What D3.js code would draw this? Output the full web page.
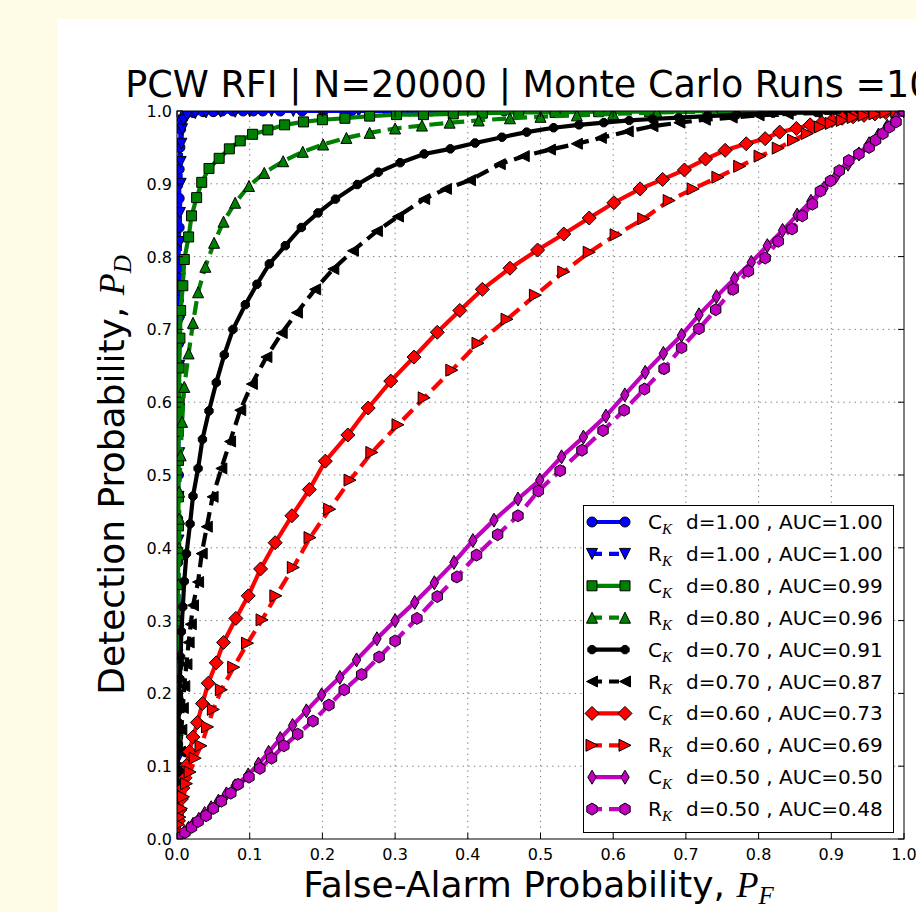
<!DOCTYPE html>
<html>
<head>
<meta charset="utf-8">
<script src="https://cdn.jsdelivr.net/npm/d3@7/dist/d3.min.js"></script>
<style>
  body { margin: 0; background: #fefce6; }
  svg { display: block; }
  text { font-family: "DejaVu Sans", sans-serif; fill: #000; }
</style>
</head>
<body>
<div id="chart"></div>
<script>
// ROC points [P_F, P_D]
const cK100 = [[0,0],[0.000,0.03],[0.000,0.08],[0.001,0.14],[0.001,0.20],[0.001,0.26],[0.001,0.32],[0.001,0.38],[0.001,0.44],[0.002,0.50],[0.002,0.56],[0.002,0.62],[0.002,0.68],[0.002,0.74],[0.002,0.79],[0.003,0.84],[0.003,0.88],[0.003,0.92],[0.004,0.95],[0.005,0.975],[0.007,0.988],[0.011,0.995],[0.022,0.998],[0.036,0.999],[0.050,0.999],[0.062,1.0],[0.077,1.0],[0.091,1.0],[0.105,1.0],[0.118,1.0],[0.142,1.0],[0.172,1.0],[0.201,1.0],[0.240,1.0],[0.290,1.0],[0.350,1.0],[0.450,1.0],[0.600,1.0],[1,1]];
const rK100 = [[0,0],[0.000,0.05],[0.001,0.11],[0.001,0.17],[0.001,0.23],[0.002,0.29],[0.002,0.35],[0.002,0.41],[0.002,0.47],[0.003,0.53],[0.003,0.59],[0.003,0.65],[0.003,0.71],[0.004,0.77],[0.004,0.82],[0.004,0.86],[0.005,0.90],[0.005,0.93],[0.006,0.955],[0.007,0.975],[0.009,0.987],[0.014,0.994],[0.025,0.997],[0.040,0.998],[0.060,0.999],[0.080,0.999],[0.100,1.0],[0.130,1.0],[0.160,1.0],[0.200,1.0],[0.250,1.0],[0.320,1.0],[0.420,1.0],[0.600,1.0],[1,1]];
const cK080 = [[0,0],[0.000,0.04],[0.000,0.09],[0.000,0.14],[0.001,0.19],[0.001,0.24],[0.001,0.29],[0.001,0.35],[0.002,0.39],[0.002,0.43],[0.002,0.47],[0.002,0.52],[0.002,0.56],[0.003,0.60],[0.003,0.647],[0.004,0.688],[0.005,0.726],[0.008,0.760],[0.010,0.796],[0.016,0.827],[0.020,0.856],[0.027,0.881],[0.034,0.902],[0.044,0.921],[0.058,0.935],[0.072,0.948],[0.087,0.959],[0.104,0.968],[0.125,0.974],[0.148,0.981],[0.174,0.985],[0.200,0.988],[0.231,0.990],[0.265,0.993],[0.302,0.995],[0.339,0.995],[0.380,0.996],[0.420,0.997],[0.470,0.998],[0.520,0.998],[0.580,0.999],[0.650,0.999],[0.750,1.0],[1,1]];
const rK080 = [[0,0],[0.000,0.05],[0.001,0.10],[0.001,0.15],[0.001,0.20],[0.002,0.25],[0.002,0.30],[0.002,0.35],[0.003,0.40],[0.003,0.44],[0.003,0.477],[0.005,0.527],[0.007,0.573],[0.010,0.621],[0.016,0.667],[0.022,0.709],[0.029,0.751],[0.039,0.786],[0.051,0.819],[0.064,0.848],[0.080,0.874],[0.099,0.897],[0.120,0.915],[0.146,0.931],[0.173,0.944],[0.201,0.954],[0.233,0.963],[0.265,0.970],[0.300,0.976],[0.337,0.980],[0.375,0.984],[0.415,0.987],[0.458,0.990],[0.500,0.992],[0.550,0.994],[0.600,0.996],[0.660,0.998],[0.730,0.999],[0.820,1.0],[1,1]];
const cK070 = [[0,0],[0.000,0.03],[0.001,0.07],[0.001,0.10],[0.002,0.13],[0.002,0.16],[0.003,0.19],[0.004,0.22],[0.005,0.25],[0.006,0.285],[0.008,0.319],[0.010,0.354],[0.013,0.392],[0.018,0.433],[0.022,0.471],[0.029,0.509],[0.035,0.549],[0.044,0.588],[0.054,0.627],[0.065,0.665],[0.077,0.700],[0.094,0.734],[0.110,0.762],[0.127,0.790],[0.149,0.815],[0.171,0.840],[0.194,0.860],[0.218,0.879],[0.248,0.899],[0.277,0.916],[0.307,0.929],[0.340,0.941],[0.376,0.948],[0.410,0.956],[0.447,0.964],[0.481,0.971],[0.518,0.977],[0.553,0.981],[0.587,0.984],[0.622,0.987],[0.654,0.989],[0.690,0.991],[0.730,0.993],[0.770,0.995],[0.820,0.997],[0.880,0.998],[0.940,0.999],[1,1]];
const rK070 = [[0,0],[0.001,0.03],[0.002,0.06],[0.003,0.09],[0.004,0.12],[0.006,0.15],[0.008,0.18],[0.010,0.21],[0.013,0.24],[0.016,0.27],[0.019,0.295],[0.022,0.321],[0.029,0.353],[0.034,0.392],[0.041,0.429],[0.049,0.470],[0.061,0.509],[0.073,0.546],[0.087,0.589],[0.103,0.625],[0.123,0.662],[0.144,0.695],[0.165,0.723],[0.190,0.755],[0.215,0.783],[0.242,0.808],[0.275,0.835],[0.304,0.855],[0.340,0.879],[0.370,0.893],[0.403,0.905],[0.444,0.927],[0.477,0.938],[0.513,0.947],[0.550,0.955],[0.583,0.963],[0.620,0.972],[0.654,0.979],[0.691,0.984],[0.726,0.988],[0.763,0.991],[0.800,0.994],[0.840,0.996],[0.880,0.997],[0.920,0.998],[0.960,0.999],[1,1]];
const cK060 = [[0,0],[0.001,0.010],[0.002,0.025],[0.004,0.040],[0.006,0.055],[0.008,0.070],[0.011,0.084],[0.013,0.101],[0.017,0.120],[0.022,0.140],[0.028,0.160],[0.035,0.186],[0.043,0.214],[0.054,0.242],[0.064,0.270],[0.081,0.303],[0.098,0.334],[0.115,0.371],[0.135,0.407],[0.158,0.444],[0.182,0.480],[0.204,0.519],[0.235,0.555],[0.263,0.592],[0.294,0.629],[0.326,0.662],[0.358,0.696],[0.389,0.726],[0.420,0.755],[0.458,0.784],[0.496,0.809],[0.532,0.831],[0.567,0.853],[0.601,0.874],[0.637,0.893],[0.668,0.906],[0.698,0.919],[0.727,0.934],[0.754,0.946],[0.783,0.955],[0.809,0.962],[0.829,0.971],[0.852,0.976],[0.871,0.981],[0.887,0.984],[0.901,0.987],[0.915,0.990],[0.930,0.992],[0.945,0.994],[0.960,0.996],[0.975,0.998],[0.990,0.999],[1,1]];
const rK060 = [[0,0],[0.001,0.010],[0.002,0.020],[0.004,0.030],[0.006,0.042],[0.009,0.058],[0.013,0.076],[0.018,0.092],[0.025,0.111],[0.033,0.128],[0.042,0.154],[0.050,0.178],[0.061,0.205],[0.078,0.236],[0.097,0.269],[0.117,0.301],[0.136,0.334],[0.160,0.373],[0.183,0.414],[0.210,0.453],[0.238,0.493],[0.268,0.531],[0.304,0.569],[0.340,0.606],[0.378,0.644],[0.414,0.681],[0.454,0.714],[0.493,0.747],[0.532,0.779],[0.567,0.806],[0.604,0.830],[0.642,0.852],[0.677,0.877],[0.710,0.893],[0.744,0.909],[0.774,0.924],[0.802,0.938],[0.827,0.949],[0.848,0.960],[0.867,0.969],[0.885,0.978],[0.900,0.983],[0.915,0.987],[0.930,0.991],[0.945,0.994],[0.960,0.996],[0.975,0.998],[0.990,0.999],[1,1]];
const cK050 = [[0,0],[0.005,0.004],[0.010,0.009],[0.016,0.015],[0.022,0.020],[0.030,0.027],[0.038,0.035],[0.047,0.043],[0.057,0.052],[0.068,0.062],[0.080,0.073],[0.098,0.088],[0.112,0.103],[0.126,0.119],[0.142,0.138],[0.159,0.156],[0.178,0.176],[0.199,0.198],[0.224,0.222],[0.247,0.246],[0.275,0.275],[0.300,0.300],[0.327,0.325],[0.354,0.352],[0.381,0.380],[0.407,0.410],[0.436,0.438],[0.469,0.467],[0.499,0.493],[0.529,0.525],[0.559,0.552],[0.590,0.581],[0.616,0.610],[0.644,0.641],[0.669,0.667],[0.694,0.692],[0.718,0.720],[0.742,0.745],[0.767,0.770],[0.790,0.792],[0.812,0.815],[0.833,0.836],[0.853,0.857],[0.872,0.876],[0.890,0.894],[0.907,0.911],[0.923,0.927],[0.938,0.941],[0.952,0.955],[0.965,0.967],[0.977,0.979],[0.989,0.990],[1,1]];
const rK050 = [[0,0],[0.004,0.002],[0.011,0.009],[0.020,0.016],[0.029,0.024],[0.040,0.032],[0.050,0.042],[0.061,0.052],[0.074,0.063],[0.084,0.075],[0.099,0.085],[0.114,0.097],[0.130,0.111],[0.147,0.128],[0.166,0.144],[0.187,0.162],[0.209,0.184],[0.230,0.205],[0.254,0.226],[0.278,0.250],[0.300,0.272],[0.330,0.303],[0.358,0.333],[0.385,0.360],[0.412,0.390],[0.441,0.418],[0.469,0.444],[0.497,0.478],[0.527,0.506],[0.557,0.534],[0.586,0.561],[0.615,0.589],[0.643,0.618],[0.670,0.646],[0.694,0.675],[0.718,0.701],[0.741,0.727],[0.765,0.755],[0.786,0.780],[0.809,0.798],[0.827,0.821],[0.846,0.838],[0.860,0.856],[0.874,0.872],[0.885,0.890],[0.899,0.904],[0.911,0.918],[0.924,0.932],[0.938,0.941],[0.952,0.950],[0.961,0.960],[0.971,0.969],[0.980,0.978],[0.989,0.985],[1,1]];

// legend text parts
const detectors = ["C", "R", "C", "R", "C", "R", "C", "R", "C", "R"];
const dValues = ["1.00", "1.00", "0.80", "0.80", "0.70", "0.70", "0.60", "0.60", "0.50", "0.50"];
const aucValues = ["1.00", "1.00", "0.99", "0.96", "0.91", "0.87", "0.73", "0.69", "0.50", "0.48"];
const ticks = [0, 0.1, 0.2, 0.3, 0.4, 0.5, 0.6, 0.7, 0.8, 0.9, 1.0];

const allSeries = [cK100, rK100, cK080, rK080, cK070, rK070, cK060, rK060, cK050, rK050];

// styles (matplotlib-ish: b g k r m)
const colors = ["#0000ff", "#0000ff", "#008000", "#008000", "#000000", "#000000", "#ff0000", "#ff0000", "#bf00bf", "#bf00bf"];
const markers = ["o", "v", "s", "^", "8", "<", "D", ">", "d", "h"];
const markerSizes = [10, 11, 10, 11, 9, 11, 14, 12, 14, 12];
const dashed = [false, true, false, true, false, true, false, true, false, true];

const W = 916, H = 912;
const margin = { left: 177, right: W - 904, top: 111, bottom: H - 839 };

const svg = d3.select("#chart").append("svg")
    .attr("width", W)
    .attr("height", H);

// figure background
svg.append("rect").attr("width", W).attr("height", H).attr("fill", "#fefce6");
svg.append("rect").attr("x", 58).attr("y", 19).attr("width", W - 58).attr("height", H - 19).attr("fill", "#ffffff");

const x = d3.scaleLinear().domain([0, 1]).range([margin.left, W - margin.right]);
const y = d3.scaleLinear().domain([0, 1]).range([H - margin.bottom, margin.top]);

// marker shapes
function markerPath(type, s) {
    const r = s / 2;
    const poly = (pts) => "M" + pts.map(p => p[0].toFixed(2) + "," + p[1].toFixed(2)).join("L") + "Z";
    const ngon = (n, off) => poly(d3.range(n).map(i => {
        const a = off + i * 2 * Math.PI / n;
        return [r * Math.cos(a), r * Math.sin(a)];
    }));
    switch (type) {
        case "o": return d3.symbol(d3.symbolCircle, Math.PI * r * r)();
        case "s": return poly([[-r, -r], [r, -r], [r, r], [-r, r]]);
        case "D": return poly([[0, -r], [r, 0], [0, r], [-r, 0]]);
        case "d": return poly([[0, -r], [r * 0.6, 0], [0, r], [-r * 0.6, 0]]);
        case "^": return poly([[0, -r], [r, r], [-r, r]]);
        case "v": return poly([[0, r], [r, -r], [-r, -r]]);
        case "<": return poly([[-r, 0], [r, -r], [r, r]]);
        case ">": return poly([[r, 0], [-r, -r], [-r, r]]);
        case "h": return ngon(6, -Math.PI / 2);
        case "8": return ngon(8, Math.PI / 8);
    }
}

// grid
const grid = svg.append("g").attr("class", "grid");
grid.selectAll(".gx").data(ticks.slice(1, -1)).join("line")
    .attr("x1", d => x(d)).attr("x2", d => x(d))
    .attr("y1", y(0)).attr("y2", y(1));
grid.selectAll(".gy").data(ticks.slice(1, -1)).join("line")
    .attr("class", "gy")
    .attr("x1", x(0)).attr("x2", x(1))
    .attr("y1", d => y(d)).attr("y2", d => y(d));
grid.selectAll("line")
    .attr("stroke", "#7f7f7f")
    .attr("stroke-width", 1)
    .attr("stroke-dasharray", "1.4,4.2");

// clip to axes
svg.append("defs").append("clipPath").attr("id", "plotClip")
    .append("rect")
    .attr("x", x(0)).attr("y", y(1))
    .attr("width", x(1) - x(0)).attr("height", y(0) - y(1));

const plot = svg.append("g").attr("clip-path", "url(#plotClip)");
const line = d3.line().x(d => x(d[0])).y(d => y(d[1]));

allSeries.forEach((data, i) => {
    const g = plot.append("g");
    g.append("path")
        .attr("d", line(data))
        .attr("fill", "none")
        .attr("stroke", colors[i])
        .attr("stroke-width", 4.2)
        .attr("stroke-dasharray", dashed[i] ? "14,7" : null);
    g.selectAll("path.mk").data(data).join("path")
        .attr("class", "mk")
        .attr("d", markerPath(markers[i], markerSizes[i]))
        .attr("transform", d => `translate(${x(d[0])},${y(d[1])})`)
        .attr("fill", colors[i])
        .attr("stroke", "#000")
        .attr("stroke-width", 1);
});

// frame
svg.append("rect")
    .attr("x", x(0)).attr("y", y(1))
    .attr("width", x(1) - x(0)).attr("height", y(0) - y(1))
    .attr("fill", "none").attr("stroke", "#000").attr("stroke-width", 1);

// inward ticks on all four sides
const tk = svg.append("g").attr("stroke", "#000").attr("stroke-width", 1);
ticks.forEach(t => {
    tk.append("line").attr("x1", x(t)).attr("x2", x(t)).attr("y1", y(0)).attr("y2", y(0) - 6);
    tk.append("line").attr("x1", x(t)).attr("x2", x(t)).attr("y1", y(1)).attr("y2", y(1) + 6);
    tk.append("line").attr("x1", x(0)).attr("x2", x(0) + 6).attr("y1", y(t)).attr("y2", y(t));
    tk.append("line").attr("x1", x(1)).attr("x2", x(1) - 6).attr("y1", y(t)).attr("y2", y(t));
});

// tick labels
svg.append("g").selectAll("text").data(ticks).join("text")
    .attr("x", d => x(d)).attr("y", y(0) + 21)
    .attr("text-anchor", "middle")
    .attr("font-size", 16)
    .text(d => d.toFixed(1));
svg.append("g").selectAll("text").data(ticks).join("text")
    .attr("x", x(0) - 5).attr("y", d => y(d) + 6)
    .attr("text-anchor", "end")
    .attr("font-size", 16)
    .text(d => d.toFixed(1));

// title and axis labels
svg.append("text")
    .attr("x", (x(0) + x(1)) / 2).attr("y", 97)
    .attr("text-anchor", "middle")
    .attr("font-size", 36.5)
    .text("PCW RFI | N=20000 | Monte Carlo Runs =100");

const xl = svg.append("text")
    .attr("x", (x(0) + x(1)) / 2 - 2).attr("y", 897)
    .attr("text-anchor", "middle")
    .attr("font-size", 36);
xl.append("tspan").text("False-Alarm Probability, ");
xl.append("tspan").attr("font-family", "Liberation Serif").attr("font-style", "italic").text("P");
xl.append("tspan").attr("font-family", "Liberation Serif").attr("font-style", "italic")
    .attr("font-size", 25).attr("dy", 7).text("F");

const yl = svg.append("text")
    .attr("transform", `translate(124,${(y(0) + y(1)) / 2}) rotate(-90)`)
    .attr("text-anchor", "middle")
    .attr("font-size", 36);
yl.append("tspan").text("Detection Probability, ");
yl.append("tspan").attr("font-family", "Liberation Serif").attr("font-style", "italic").text("P");
yl.append("tspan").attr("font-family", "Liberation Serif").attr("font-style", "italic")
    .attr("font-size", 25).attr("dy", 7).text("D");

// legend
const lg = svg.append("g");
lg.append("rect")
    .attr("x", 583.5).attr("y", 505.5).attr("width", 310).attr("height", 327)
    .attr("fill", "#fff").attr("stroke", "#000").attr("stroke-width", 1);

detectors.forEach((det, i) => {
    const cy = 522 + i * 31.9;
    const row = lg.append("g");
    row.append("line")
        .attr("x1", 592).attr("x2", 625).attr("y1", cy).attr("y2", cy)
        .attr("stroke", colors[i]).attr("stroke-width", 4.2)
        .attr("stroke-dasharray", dashed[i] ? "10,7" : null);
    [592, 625].forEach(mx => {
        row.append("path")
            .attr("d", markerPath(markers[i], markerSizes[i]))
            .attr("transform", `translate(${mx},${cy})`)
            .attr("fill", colors[i]).attr("stroke", "#000").attr("stroke-width", 1);
    });
    const t = row.append("text").attr("x", 648).attr("y", cy + 7).attr("font-size", 20);
    t.append("tspan").text(det);
    t.append("tspan").attr("font-family", "Liberation Serif").attr("font-style", "italic")
        .attr("font-size", 15).attr("dy", 5).text("K");
    t.append("tspan").attr("x", 686).attr("dy", -5).text(`d=${dValues[i]} , AUC=${aucValues[i]}`);
});
</script>
</body>
</html>
